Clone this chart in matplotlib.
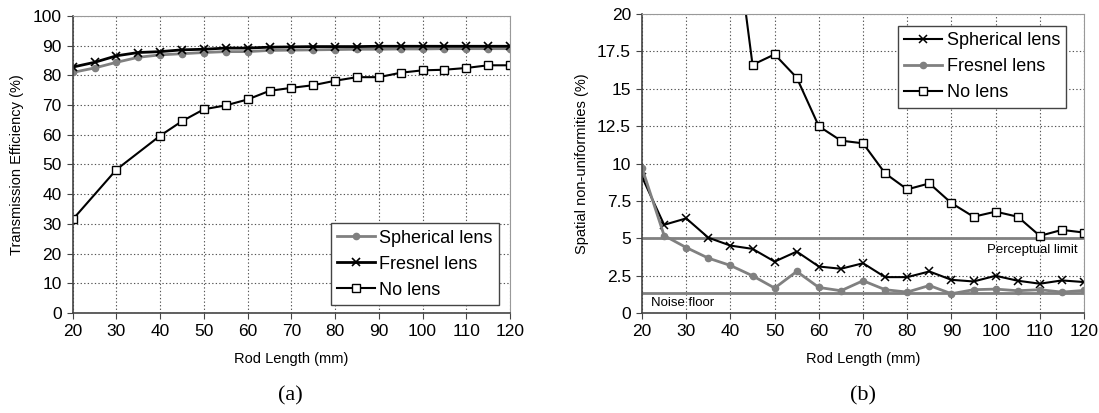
import numpy as np
import matplotlib.pyplot as plt

plt.rcParams['font.family'] = ['Liberation Sans', 'DejaVu Sans']

# rod lengths (mm)
rod = [20, 25, 30, 35, 40, 45, 50, 55, 60, 65, 70, 75, 80, 85, 90, 95, 100, 105, 110, 115, 120]
rod_nolens_a = [20, 30, 40, 45, 50, 55, 60, 65, 70, 75, 80, 85, 90, 95, 100, 105, 110, 115, 120]
rod_nolens_b = [40, 45, 50, 55, 60, 65, 70, 75, 80, 85, 90, 95, 100, 105, 110, 115, 120]

# (a) transmission efficiency (%)
eff_spherical = [81.0, 82.5, 84.4, 86.1, 86.9, 87.3, 87.7, 88.0, 88.0, 88.4, 88.5, 88.6, 88.7, 88.8,
                 88.8, 88.9, 88.9, 89.0, 89.0, 89.0, 89.0]
eff_fresnel = [82.8, 84.4, 86.6, 87.7, 88.0, 88.6, 88.8, 89.2, 89.2, 89.5, 89.6, 89.7, 89.7, 89.7,
               89.8, 89.8, 89.8, 89.8, 89.8, 89.8, 89.8]
eff_nolens = [31.5, 48.3, 59.7, 64.6, 68.6, 69.9, 71.9, 74.8, 75.8, 76.7, 78.2, 79.4, 79.4, 80.9,
              81.7, 81.9, 82.5, 83.4, 83.4]

# (b) spatial non-uniformities (%)
nu_spherical = [9.1, 5.9, 6.33, 5.04, 4.51, 4.29, 3.44, 4.11, 3.11, 2.96, 3.33, 2.4, 2.4, 2.78,
                2.22, 2.11, 2.49, 2.16, 1.96, 2.18, 2.07]
nu_fresnel = [9.7, 5.18, 4.38, 3.67, 3.18, 2.49, 1.67, 2.78, 1.71, 1.49, 2.16, 1.56, 1.4, 1.84,
              1.29, 1.56, 1.6, 1.49, 1.56, 1.4, 1.51]
nu_nolens = [28.0, 16.6, 17.3, 15.74, 12.49, 11.53, 11.35, 9.34, 8.27, 8.67, 7.35, 6.44, 6.78, 6.44,
             5.16, 5.56, 5.38]
perceptual_limit = 5.0
noise_floor = 1.35

gray = '#808080'
fig = plt.figure(figsize=(10.99, 4.13), dpi=100)
ax1 = fig.add_axes([0.0662, 0.2421, 0.3979, 0.7192])
ax2 = fig.add_axes([0.5842, 0.2421, 0.4022, 0.7240])


def style(ax):
    ax.set_xlim(20, 120)
    ax.set_xticks(range(20, 121, 10))
    ax.grid(True, linestyle=(0, (1.2, 2)), color='#555555', linewidth=0.8)
    ax.set_axisbelow(True)
    for s in ['top', 'right']:
        ax.spines[s].set_color('#999999')
    for s in ['left', 'bottom']:
        ax.spines[s].set_color('#444444')
        ax.spines[s].set_linewidth(1.2)
    ax.tick_params(labelsize=12.5, direction='out', length=4, color='#444444', pad=4)
    ax.set_xlabel('Rod Length (mm)', fontsize=10.5, labelpad=9)


def legend(ax, **kw):
    leg = ax.legend(fontsize=13, frameon=True, fancybox=False, edgecolor='#444444',
                    framealpha=1, handlelength=2.1, handletextpad=0.25, borderpad=0.35,
                    labelspacing=0.5, borderaxespad=0, **kw)
    leg.get_frame().set_linewidth(1)
    return leg


# (a)
ax1.plot(rod, eff_spherical, color=gray, lw=2, marker='o', ms=4.5, mfc=gray, mec=gray,
         label='Spherical lens')
ax1.plot(rod, eff_fresnel, color='black', lw=2, marker='x', ms=6, mew=1.2, label='Fresnel lens')
ax1.plot(rod_nolens_a, eff_nolens, color='black', lw=1.5, marker='s', ms=5.5, mfc='white',
         mec='black', mew=1, label='No lens')
style(ax1)
ax1.set_ylim(0, 100)
ax1.set_yticks(range(0, 101, 10))
ax1.set_ylabel('Transmission Efficiency (%)', fontsize=10.5, labelpad=6)
legend(ax1, loc='lower right', bbox_to_anchor=(0.975, 0.027))
fig.text(0.264, 0.042, '(a)', ha='center', va='center', fontsize=16,
         family=['Liberation Serif', 'DejaVu Serif'])

# (b)
ax2.axhline(perceptual_limit, color=gray, lw=2, zorder=1.5)
ax2.axhline(noise_floor, color=gray, lw=2, zorder=1.5)
ax2.plot(rod, nu_spherical, color='black', lw=1.5, marker='x', ms=6, mew=1.1,
         label='Spherical lens')
ax2.plot(rod, nu_fresnel, color=gray, lw=2, marker='o', ms=4.5, mfc=gray, mec=gray,
         label='Fresnel lens')
ax2.plot(rod_nolens_b, nu_nolens, color='black', lw=1.5, marker='s', ms=5.5, mfc='white',
         mec='black', mew=1, label='No lens')
style(ax2)
ax2.set_ylim(0, 20)
ax2.set_yticks(np.arange(0, 20.1, 2.5))
ax2.set_yticklabels(['0', '2.5', '5', '7.5', '10', '12.5', '15', '17.5', '20'])
ax2.set_ylabel('Spatial non-uniformities (%)', fontsize=10.5, labelpad=6)
ax2.text(118.5, perceptual_limit - 0.4, 'Perceptual limit', ha='right', va='top', fontsize=9.5)
ax2.text(22, noise_floor - 0.3, 'Noise floor', ha='left', va='top', fontsize=9.5)
legend(ax2, loc='upper right', bbox_to_anchor=(0.96, 0.96))
fig.text(0.785, 0.042, '(b)', ha='center', va='center', fontsize=16,
         family=['Liberation Serif', 'DejaVu Serif'])

fig.savefig('out.png', dpi=100)
